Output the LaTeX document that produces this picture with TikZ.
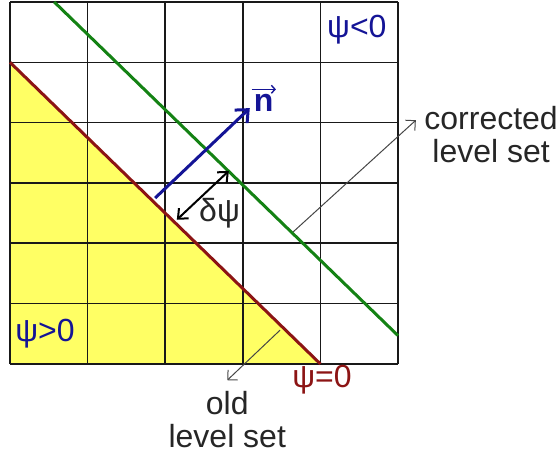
\documentclass[tikz,border=0pt]{standalone}
\usepackage{fontspec}
\setmainfont{Liberation Sans}
\usetikzlibrary{arrows.meta}
\definecolor{psiblue}{RGB}{20,20,150}
\definecolor{levelred}{RGB}{140,20,20}
\definecolor{levelgreen}{RGB}{20,130,20}
\definecolor{insideyellow}{RGB}{255,255,100}
\definecolor{notegray}{RGB}{70,70,70}
\begin{document}
\begin{tikzpicture}[x=38.8pt,y=30.165pt,
every node/.style={font=\fontsize{16}{16.5}\selectfont,inner sep=1pt},
cellgrid/.style={line width=0.8pt,draw=black!90},
oldlevel/.style={draw=levelred,line width=1.5pt},
newlevel/.style={draw=levelgreen,line width=1.5pt},
normalarrow/.style={draw=psiblue,line width=1.5pt,-{Straight Barb[length=5pt,width=9pt]}},
shiftarrow/.style={line width=1pt,{Straight Barb[length=4pt,width=7pt]}-{Straight Barb[length=4pt,width=7pt]}},
notearrow/.style={draw=notegray,line width=0.5pt,-{Straight Barb[length=3.5pt,width=7pt]}},
note/.style={align=center,text=black!85}]
\useasboundingbox (-0.129,-1.492) rectangle (7.088,6.033);

\fill[insideyellow] (0,5) -- (4,0) -- (0,0) -- cycle;
\foreach \i in {0,...,5}
  \draw[cellgrid] (\i,0) -- (\i,6);
\foreach \j in {0,...,6}
  \draw[cellgrid] (0,\j) -- (5,\j);

\coordinate (oldtop) at (0,5);
\coordinate (oldbot) at (4,0);
\coordinate (newtop) at (0.57,6);
\coordinate (newbot) at (5,0.47);
\draw[oldlevel] (oldtop) -- (oldbot);
\draw[newlevel] (newtop) -- (newbot);

% normal vector and shift
\coordinate (nfoot) at (1.87,2.75);
\coordinate (ntip) at (3.09,4.24);
\draw[normalarrow] (nfoot) -- (ntip);
\node[text=psiblue,font=\fontsize{16}{16.5}\selectfont\bfseries] (nlabel) at (3.27,4.33) {n};
\draw[psiblue,line width=0.7pt,-{Straight Barb[length=1.8pt,width=4pt]}]
  ([yshift=1.2pt]nlabel.north west) -- ([yshift=1.2pt]nlabel.north east);

\coordinate (dlow) at (2.15,2.39);
\coordinate (dhigh) at (2.82,3.2);
\draw[shiftarrow] (dlow) -- (dhigh);
\node[text=black!85] (dpsi) at (2.7,2.5) {δψ};

% region labels
\node[text=psiblue] (neg) at (4.47,5.54) {ψ<0};
\node[text=psiblue] (pos) at (0.45,0.5) {ψ>0};
\node[text=levelred] (zero) at (4.02,-0.265) {ψ=0};

% notes
\node[note] (corr) at (6.2,3.8) {corrected\\level set};
\node[note] (old) at (2.8,-0.93) {old\\level set};
\coordinate (corrfrom) at (3.65,2.19);
\coordinate (corrto) at (5.23,4.04);
\coordinate (oldfrom) at (3.48,0.56);
\coordinate (oldto) at (2.8,-0.27);
\draw[notearrow] (corrfrom) -- (corrto);
\draw[notearrow] (oldfrom) -- (oldto);
\end{tikzpicture}
\end{document}
